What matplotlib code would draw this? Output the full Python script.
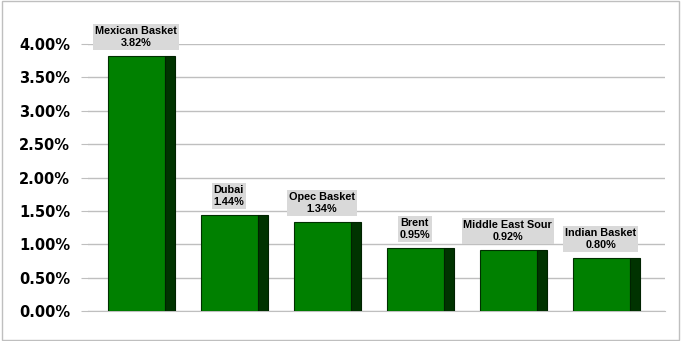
import numpy as np
import matplotlib.pyplot as plt
from matplotlib.patches import Rectangle

# data
names = ['Mexican Basket', 'Dubai', 'Opec Basket', 'Brent', 'Middle East Sour', 'Indian Basket']
values = [3.82, 1.44, 1.34, 0.95, 0.92, 0.80]
yticks = [0, 0.5, 1.0, 1.5, 2.0, 2.5, 3.0, 3.5, 4.0]

fig = plt.figure(figsize=(6.81, 3.41), dpi=100)
# axes: bottom at y=311 px, 4% at y=44 px
ax = fig.add_axes([88/681, (341-311)/341, (665-88)/681, (311-44)/341])

x = np.arange(len(names))
front_w = 0.61
side_w = 0.11
for xi, v in zip(x, values):
    ax.bar(xi - side_w/2, v, width=front_w, color='#008000', edgecolor='#003000', linewidth=0.8, zorder=3)
    ax.bar(xi + front_w/2, v, width=side_w, color='#003300', edgecolor='#002200', linewidth=0.8, zorder=3)
    ax.annotate(f'{names[xi]}\n{v:.2f}%', (xi - 0.06, v), xytext=(0, 5.5),
                textcoords='offset points', ha='center', va='bottom',
                fontsize=7.8, fontweight='bold', family='Liberation Sans', linespacing=1.25,
                bbox=dict(boxstyle='square,pad=0.18', fc='#d9d9d9', ec='none'), zorder=4)

ax.set_xlim(-0.575, 5.63)
ax.set_ylim(0, 4.0)
ax.set_yticks(yticks)
ax.set_yticklabels([f'{t:.2f}%' for t in yticks], fontsize=10.5, fontweight='bold', family='DejaVu Sans')
ax.set_xticks([])
ax.yaxis.grid(True, color='#bfbfbf', linewidth=1, zorder=0)
ax.tick_params(axis='y', length=5, color='#bfbfbf', pad=8)
for s in ['left', 'right', 'top']:
    ax.spines[s].set_visible(False)
ax.spines['bottom'].set_color('#bfbfbf')

fig.patches.append(Rectangle((0.003, 0.003), 0.994, 0.994, transform=fig.transFigure,
                             fill=False, ec='#bfbfbf', lw=1))

fig.savefig('out.png', dpi=100)
